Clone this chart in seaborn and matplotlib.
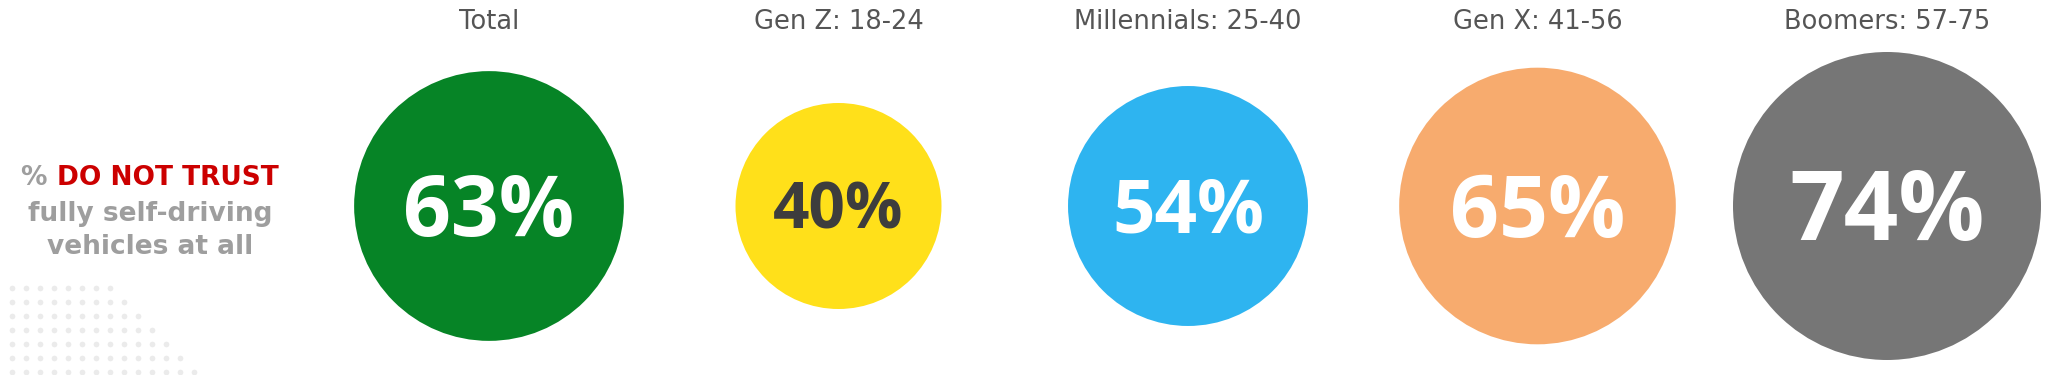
import numpy as np
import pandas as pd
import matplotlib
matplotlib.use("Agg")
import matplotlib.pyplot as plt
import matplotlib.colors as mcolors
import seaborn as sns

# ---- data ----
groups = ["Total", "Gen Z: 18-24", "Millennials: 25-40", "Gen X: 41-56", "Boomers: 57-75"]
pct_do_not_trust = [63, 40, 54, 65, 74]
measure = "% DO NOT TRUST fully self-driving vehicles at all"

# ---- style ----
bubble_colors = ["#068426", "#FFE01A", "#2EB4F0", "#F7AB6E", "#767676"]
label_colors = ["white", "#3D3D3D", "white", "white", "white"]

sns.set_theme(style="white")
plt.rcParams["font.family"] = ["DejaVu Sans"]

W, H, DPI = 2048, 375, 100
fig = plt.figure(figsize=(W / DPI, H / DPI), dpi=DPI)
fig.patch.set_facecolor("white")

# decorative dot grid (bottom-left)
bg = fig.add_axes([0, 0, 1, 1], zorder=0)
bg.set_xlim(0, W)
bg.set_ylim(H, 0)
bg.axis("off")
for k in range(7):
    xs = 12 + 14 * np.arange(8 + k)
    bg.scatter(xs, np.full_like(xs, 288 + 14 * k, dtype=float), s=17,
               color="#EBEBEB", linewidths=0)

top_px = 38
ax = fig.add_axes([0, 0, 1, (H - top_px) / H], zorder=1)
ax.patch.set_alpha(0)

df = pd.DataFrame({"group": groups, "pct": pct_do_not_trust,
                   "measure": [measure] * len(groups)})

px_to_pt = 72 / DPI
s_min = (2 * 103 * px_to_pt) ** 2
s_max = (2 * 154 * px_to_pt) ** 2
sns.scatterplot(data=df, x="group", y="measure", hue="group",
                palette=bubble_colors, size="pct", sizes=(s_min, s_max),
                size_norm=mcolors.PowerNorm(gamma=1.4, vmin=40, vmax=74),
                linewidth=0, legend=False, ax=ax, alpha=1)

ax.set_xlim(-489 / 349.5, (W - 489) / 349.5)
ax.set_ylim(-169, (H - top_px) - 169)

# percentage labels sized with the bubbles
sizes = ax.collections[0].get_sizes()
for i, (g, v) in enumerate(zip(groups, pct_do_not_trust)):
    r_px = np.sqrt(sizes[i]) / 2 / px_to_pt
    fs = 0.447 * r_px
    cap_px = 0.714 * fs / px_to_pt
    ax.text(i, -cap_px / 2, f"{v}%", ha="center", va="baseline",
            fontsize=fs, fontweight="bold", color=label_colors[i],
            family=["Open Sans", "DejaVu Sans"])

ax.xaxis.tick_top()
ax.tick_params(axis="x", length=0, pad=2.5, labelsize=18.5, labelcolor="#555555")
ax.set_yticks([])
ax.set_xlabel("")
ax.set_ylabel("")
for sp in ax.spines.values():
    sp.set_visible(False)

# left annotation
fam = ["DejaVu Sans"]
fsz = 19
grey = "#9E9E9E"
fig.canvas.draw()
r = fig.canvas.get_renderer()
ta = bg.text(0, 185, "% ", ha="left", va="baseline", fontsize=fsz,
             fontweight="bold", color=grey, family=fam)
tb = bg.text(0, 185, "DO NOT TRUST", ha="left", va="baseline", fontsize=fsz,
             fontweight="bold", color="#CC0000", family=fam)
wa = ta.get_window_extent(renderer=r).width
wb = tb.get_window_extent(renderer=r).width
x0 = 150 - (wa + wb) / 2
ta.set_x(x0)
tb.set_x(x0 + wa)
bg.text(150, 221, "fully self-driving", ha="center", va="baseline", fontsize=fsz,
        fontweight="bold", color=grey, family=fam)
bg.text(150, 254, "vehicles at all", ha="center", va="baseline", fontsize=fsz,
        fontweight="bold", color=grey, family=fam)

fig.savefig("out.png", dpi=DPI, facecolor="white")
